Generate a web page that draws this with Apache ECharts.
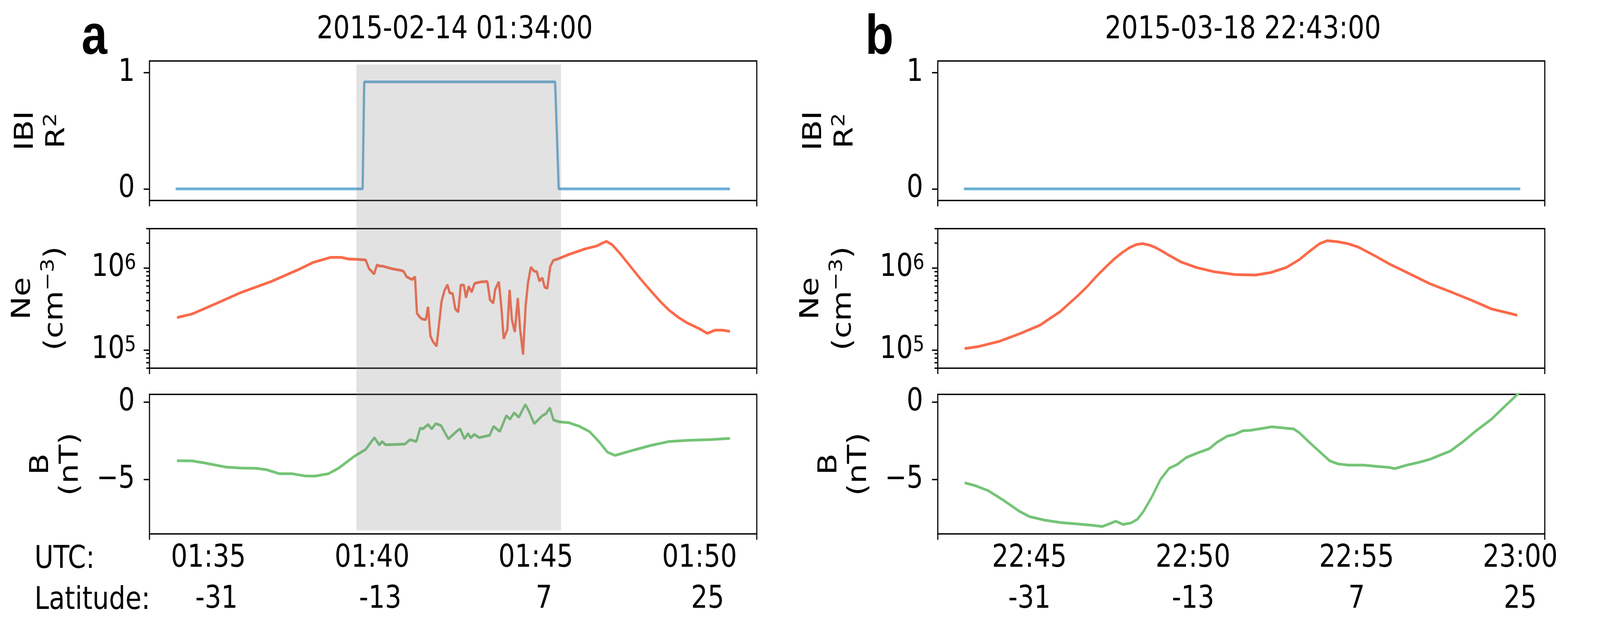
<!DOCTYPE html>
<html>
<head>
<meta charset="utf-8">
<title>IBI / Ne / B</title>
<script src="https://cdn.jsdelivr.net/npm/echarts@6/dist/echarts.min.js"></script>
<style>
  html, body { margin: 0; padding: 0; background: #fff; overflow: hidden; }
  #main { width: 4924px; height: 1617px; transform-origin: 0 0; }
</style>
</head>
<body>
<div id="main"></div>
<script>
// time = minutes after the full hour (01:00 for a, 22:00 for b)
var titleA = '2015-02-14 01:34:00';
var titleB = '2015-03-18 22:43:00';
var hourA = 1, hourB = 22;

var ibiA = [[34.0, 0], [39.71, 0], [39.76, 0.92], [45.59, 0.92], [45.70, 0], [50.93, 0]];
var ibiB = [[43.0, 0], [60.0, 0]];

var neA = [
  [34.04, 2.48e5], [34.51, 2.75e5], [35.21, 3.64e5], [35.99, 5.0e5], [36.93, 6.85e5],
  [37.72, 9.4e5], [38.19, 1.16e6], [38.73, 1.34e6], [39.06, 1.34e6], [39.28, 1.28e6],
  [39.54, 1.27e6], [39.80, 1.25e6], [39.91, 9.7e5], [39.96, 9.3e5], [40.06, 8.4e5],
  [40.15, 1.09e6], [40.22, 1.05e6], [40.32, 1.05e6], [40.63, 9.7e5], [40.89, 9.3e5],
  [40.97, 9.0e5], [41.05, 7.8e5], [41.22, 7.2e5], [41.31, 7.8e5], [41.37, 2.8e5],
  [41.46, 2.5e5], [41.54, 2.37e5], [41.64, 2.34e5], [41.71, 3.34e5], [41.78, 1.48e5],
  [41.86, 1.26e5], [41.97, 1.11e5], [42.12, 3.87e5], [42.21, 5.28e5], [42.30, 6.22e5],
  [42.37, 4.94e5], [42.46, 4.88e5], [42.54, 3.17e5], [42.63, 2.89e5], [42.71, 6.18e5],
  [42.80, 6.17e5], [42.87, 4.33e5], [42.95, 5.96e5], [43.04, 5.06e5], [43.13, 6.46e5],
  [43.33, 6.75e5], [43.52, 6.82e5], [43.60, 4.09e5], [43.70, 3.71e5], [43.76, 5.48e5],
  [43.87, 6.78e5], [43.94, 3.6e5], [44.02, 1.37e5], [44.13, 1.77e5], [44.20, 5.38e5],
  [44.27, 2.32e5], [44.36, 1.66e5], [44.45, 4.29e5], [44.52, 1.8e5], [44.61, 8.8e4],
  [44.69, 3.47e5], [44.76, 6.5e5], [44.85, 1.02e6], [44.95, 9.1e5], [45.03, 9.0e5],
  [45.11, 6.9e5], [45.20, 7.55e5], [45.27, 5.83e5], [45.35, 5.62e5], [45.44, 1.03e6],
  [45.53, 1.23e6], [45.71, 1.3e6], [46.0, 1.45e6], [46.5, 1.7e6], [46.87, 1.85e6],
  [47.03, 2.0e6], [47.16, 2.1e6], [47.34, 1.9e6], [47.60, 1.45e6], [47.89, 1.04e6],
  [48.20, 7.3e5], [48.52, 5.2e5], [48.80, 3.9e5], [49.07, 3.05e5], [49.35, 2.5e5],
  [49.61, 2.15e5], [50.01, 1.8e5], [50.24, 1.59e5], [50.47, 1.74e5], [50.71, 1.74e5],
  [50.93, 1.68e5]
];

var neB = [
  [43.02, 1.04e5], [43.44, 1.10e5], [44.07, 1.27e5], [44.69, 1.57e5], [45.32, 2.0e5],
  [45.95, 2.95e5], [46.22, 3.7e5], [46.50, 4.66e5], [46.78, 6.0e5], [47.05, 7.89e5],
  [47.33, 1.02e6], [47.60, 1.29e6], [47.85, 1.55e6], [48.07, 1.77e6], [48.27, 1.92e6],
  [48.46, 1.97e6], [48.65, 1.90e6], [48.85, 1.77e6], [49.05, 1.60e6], [49.24, 1.44e6],
  [49.63, 1.18e6], [50.10, 1.01e6], [50.65, 8.95e5], [51.28, 8.28e5], [51.91, 8.17e5],
  [52.38, 8.77e5], [52.85, 1.01e6], [53.24, 1.25e6], [53.56, 1.59e6], [53.87, 1.97e6],
  [54.10, 2.14e6], [54.42, 2.08e6], [54.73, 1.97e6], [55.05, 1.79e6], [55.36, 1.54e6],
  [55.59, 1.38e6], [55.99, 1.12e6], [56.46, 9.08e5], [56.93, 7.36e5], [57.24, 6.4e5],
  [57.87, 5.11e5], [58.50, 4.05e5], [59.12, 3.16e5], [59.91, 2.65e5]
];

var bA = [
  [34.04, -3.78], [34.51, -3.79], [34.90, -3.93], [35.53, -4.19], [35.99, -4.25],
  [36.46, -4.27], [36.78, -4.36], [37.17, -4.62], [37.56, -4.62], [37.95, -4.76],
  [38.27, -4.77], [38.66, -4.62], [38.97, -4.27], [39.44, -3.52], [39.80, -3.06],
  [39.94, -2.66], [40.07, -2.29], [40.22, -2.77], [40.30, -2.54], [40.41, -2.75],
  [41.00, -2.71], [41.16, -2.42], [41.35, -2.54], [41.47, -1.67], [41.55, -1.73],
  [41.71, -1.44], [41.82, -1.73], [41.94, -1.39], [42.10, -1.50], [42.33, -2.37],
  [42.60, -1.85], [42.69, -1.73], [42.82, -2.37], [42.93, -2.02], [43.01, -2.31],
  [43.12, -2.08], [43.27, -2.29], [43.59, -2.14], [43.71, -1.56], [43.90, -1.90],
  [44.10, -0.87], [44.21, -1.10], [44.34, -0.69], [44.48, -0.98], [44.68, -0.15],
  [44.79, -0.58], [44.95, -1.39], [45.07, -1.15], [45.20, -0.87], [45.31, -0.75],
  [45.43, -0.37], [45.54, -1.15], [45.70, -1.27], [46.01, -1.33], [46.33, -1.56],
  [46.64, -1.90], [46.95, -2.60], [47.19, -3.23], [47.42, -3.44], [47.66, -3.29],
  [48.05, -3.06], [48.52, -2.79], [49.07, -2.54], [49.69, -2.46], [50.32, -2.42],
  [50.93, -2.34]
];

var bB = [
  [43.02, -5.20], [43.36, -5.40], [43.75, -5.72], [44.22, -6.35], [44.69, -7.04],
  [45.01, -7.39], [45.48, -7.62], [45.95, -7.77], [46.42, -7.85], [46.89, -7.94],
  [47.23, -8.02], [47.44, -7.85], [47.64, -7.68], [47.86, -7.89], [48.11, -7.79],
  [48.30, -7.56], [48.49, -7.04], [48.74, -6.12], [49.01, -4.97], [49.27, -4.27],
  [49.52, -4.02], [49.79, -3.58], [50.10, -3.31], [50.50, -3.00], [50.73, -2.60],
  [51.05, -2.19], [51.28, -2.08], [51.52, -1.85], [51.75, -1.82], [52.07, -1.71],
  [52.41, -1.59], [52.77, -1.67], [53.08, -1.73], [53.24, -1.96], [53.56, -2.60],
  [53.95, -3.35], [54.18, -3.79], [54.42, -3.98], [54.73, -4.06], [55.20, -4.06],
  [55.67, -4.16], [55.99, -4.21], [56.17, -4.29], [56.54, -4.06], [56.93, -3.87],
  [57.24, -3.69], [57.56, -3.41], [57.87, -3.15], [58.26, -2.54], [58.65, -1.85],
  [59.12, -1.10], [59.52, -0.29], [59.91, 0.49], [60.0, 0.68]
];

var utcTicksA = [35, 40, 45, 50];
var utcTicksB = [45, 50, 55, 60];
var latTicks = ['-31', '-13', '7', '25'];
var bubbleSpanA = [39.52, 45.77];

var neMajor = [1e5, 1e6];
var neMinor = [6e4, 7e4, 8e4, 9e4, 2e5, 3e5, 4e5, 5e5, 6e5, 7e5, 8e5, 9e5, 2e6, 3e6];

var FONT = 'DejaVu Sans';
var BLUE = '#6baed6', RED = '#fb6a4a', GREEN = '#74c476';

var xRange = [[33.2, 51.75], [42.2, 60.75]];
var colLeft = [460, 2886], colWidth = [1869, 1868];
var rowTop = [156, 585, 1009], rowHeight = 357;

// the figure is laid out at 4924 x 1617 and stretched to whatever window we get
var el = document.getElementById('main');
el.style.transform = 'scale(' + (window.innerWidth / 4924) + ',' + (window.innerHeight / 1617) + ')';

var chart = echarts.init(el);

function pad2(n) { return (n < 10 ? '0' : '') + n; }
function hhmm(base, m) { return pad2(base + Math.floor(m / 60)) + ':' + pad2(Math.round(m) % 60); }

// rich styles: n = normal text, s = superscript
function supRich(lh) {
  return {
    n: { fontSize: 80, fontFamily: FONT, color: '#000', lineHeight: lh },
    s: { fontSize: 56, fontFamily: FONT, color: '#000', lineHeight: lh - 45, verticalAlign: 'top' }
  };
}

var grids = [], xAxes = [], yAxes = [];
var tickStyle = { color: '#000', width: 3.5 };
for (var c = 0; c < 2; c++) {
  for (var r = 0; r < 3; r++) {
    var gi = c * 3 + r;
    grids.push({
      left: colLeft[c], width: colWidth[c], top: rowTop[r], height: rowHeight,
      show: true, borderColor: '#000', borderWidth: 3.5, backgroundColor: 'transparent'
    });
    var xa = {
      type: 'value', gridIndex: gi, min: xRange[c][0], max: xRange[c][1],
      axisLine: { show: false, onZero: false },
      splitLine: { show: false },
      axisTick: { show: true, customValues: xRange[c], length: 15, lineStyle: tickStyle },
      axisLabel: { show: false }
    };
    if (r === 2) {
      (function (col) {
        var ticks = col === 0 ? utcTicksA : utcTicksB;
        xa.axisLabel = {
          show: true, customValues: ticks, margin: 11,
          formatter: function (v) {
            var k = ticks.indexOf(v);
            return '{t|' + hhmm(col === 0 ? hourA : hourB, v) + '}\n{l|' + latTicks[k] + '}';
          },
          rich: {
            t: { fontSize: 80, fontFamily: FONT, color: '#000', lineHeight: 105 },
            l: { fontSize: 80, fontFamily: FONT, color: '#000', lineHeight: 105,
                 padding: [0, 0, 0, col === 0 ? 50 : 0] }
          }
        };
      })(c);
    }
    xAxes.push(xa);
  }
}

function nameStyle(lh) {
  return { fontSize: 80, fontFamily: FONT, color: '#000', lineHeight: lh, align: 'center', rich: supRich(lh) };
}
var labelStyle = { fontSize: 80, fontFamily: FONT, color: '#000' };

for (var c2 = 0; c2 < 2; c2++) {
  var g = c2 * 3;
  yAxes.push({
    type: 'value', gridIndex: g, min: -0.1, max: 1.1,
    axisLine: { show: false, onZero: false }, splitLine: { show: false },
    axisTick: { customValues: [0, 1], length: 18, lineStyle: tickStyle },
    axisLabel: Object.assign({ customValues: [0, 1], margin: 45 }, labelStyle),
    name: '{n|IBI}\n{n|R}{s|2}', nameLocation: 'middle', nameRotate: 90, nameGap: 234,
    nameTextStyle: nameStyle(97)
  });
  yAxes.push({
    type: 'log', gridIndex: g + 1, min: 6e4, max: 3e6, logBase: 10,
    axisLine: { show: false, onZero: false }, splitLine: { show: false },
    minorTick: { show: false },
    axisTick: { customValues: neMajor, length: 18, lineStyle: tickStyle },
    axisLabel: Object.assign({
      customValues: neMajor, margin: 41,
      formatter: function (v) { return '{n|10}{s|' + Math.round(Math.log10(v)) + '}'; },
      rich: supRich(80)
    }, labelStyle),
    name: '{n|Ne}\n{n|(cm}{s|\u22123}{n|)}', nameLocation: 'middle', nameRotate: 90, nameGap: 239,
    nameTextStyle: nameStyle(100)
  });
  yAxes.push({
    type: 'value', gridIndex: g + 2, min: -8.5, max: 0.5,
    axisLine: { show: false, onZero: false }, splitLine: { show: false },
    axisTick: { customValues: [-5, 0], length: 18, lineStyle: tickStyle },
    axisLabel: Object.assign({
      customValues: [-5, 0], margin: 45,
      formatter: function (v) { return v < 0 ? '\u2212' + Math.abs(v) : String(v); }
    }, labelStyle),
    name: 'B\n(nT)', nameLocation: 'middle', nameRotate: 90, nameGap: 196,
    nameTextStyle: { fontSize: 80, fontFamily: FONT, color: '#000', lineHeight: 91, align: 'center' }
  });
}
// minor ticks of the two log axes
[1, 4].forEach(function (gi) {
  yAxes.push({
    type: 'log', gridIndex: gi, min: 6e4, max: 3e6, logBase: 10, position: 'left',
    axisLine: { show: false, onZero: false }, splitLine: { show: false },
    axisTick: { customValues: neMinor, length: 10, lineStyle: tickStyle },
    axisLabel: { show: false }
  });
});

function line(data, color, idx) {
  return {
    type: 'line', data: data, xAxisIndex: idx, yAxisIndex: idx,
    showSymbol: false, symbol: 'none', color: color, z: 3,
    lineStyle: { color: color, width: 7 }
  };
}

var bandTopIBI = 1.07, bandBottomB = -8.27;

function textEl(txt, x, y, font) {
  return { type: 'text', left: x, top: y, style: { text: txt, font: font, fill: '#000' } };
}

option = {
  animation: false,
  backgroundColor: '#fff',
  title: [
    { text: titleA, left: colLeft[0] + colWidth[0] / 2, top: 30, textAlign: 'center',
      textStyle: { fontSize: 80, fontWeight: 'normal', fontFamily: FONT, color: '#000', lineHeight: 84 } },
    { text: titleB, left: colLeft[1] + colWidth[1] / 2, top: 30, textAlign: 'center',
      textStyle: { fontSize: 80, fontWeight: 'normal', fontFamily: FONT, color: '#000', lineHeight: 84 } }
  ],
  grid: grids,
  xAxis: xAxes,
  yAxis: yAxes,
  graphic: [
    textEl('a', 251, 28, 'bold 142px "Liberation Sans"'),
    textEl('b', 2663, 28, 'bold 142px "Liberation Sans"'),
    textEl('UTC:', 106, 1392, '80px "DejaVu Sans"'),
    textEl('Latitude:', 106, 1497, '80px "DejaVu Sans"')
  ],
  series: [
    line(ibiA, BLUE, 0), line(neA, RED, 1), line(bA, GREEN, 2),
    line(ibiB, BLUE, 3), line(neB, RED, 4), line(bB, GREEN, 5),
    {
      type: 'custom', xAxisIndex: 0, yAxisIndex: 0, z: 10, silent: true, clip: false,
      data: [bubbleSpanA],
      renderItem: function (params, api) {
        var p0 = api.coord([api.value(0), bandTopIBI]);
        var p1 = api.coord([api.value(1), bandTopIBI]);
        var pb = chart.convertToPixel({ xAxisIndex: 2, yAxisIndex: 2 }, [api.value(0), bandBottomB]);
        return {
          type: 'rect',
          shape: { x: p0[0], y: p0[1], width: p1[0] - p0[0], height: pb[1] - p0[1] },
          style: { fill: 'rgba(128,128,128,0.23)' }
        };
      }
    }
  ]
};
chart.setOption(option);
</script>
</body>
</html>
